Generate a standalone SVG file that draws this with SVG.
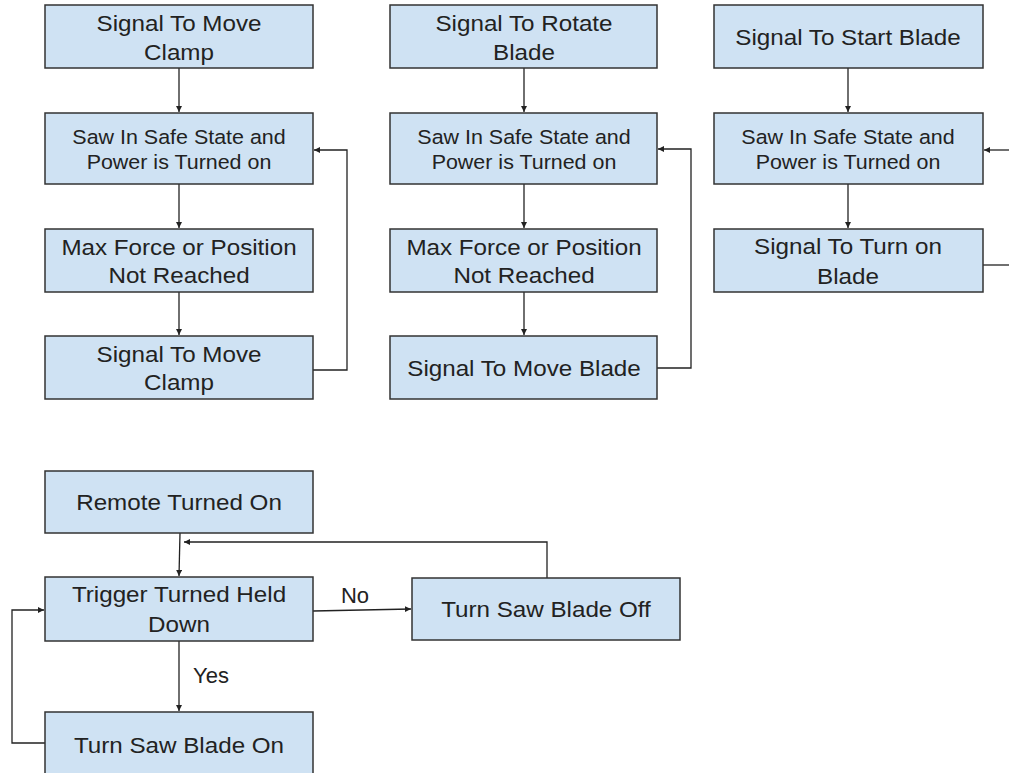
<svg xmlns="http://www.w3.org/2000/svg" width="1009" height="773" viewBox="0 0 1009 773">
<defs>
<marker id="ah" markerWidth="8" markerHeight="8" refX="6" refY="3" orient="auto" markerUnits="userSpaceOnUse">
<path d="M0,0 L6,3 L0,6 Z" fill="#222"/>
</marker>
<style>
.box{fill:#cfe2f3;stroke:#333;stroke-width:1.5}
.t{font-family:"Liberation Sans",Arial,sans-serif;font-size:22px;fill:#222;text-anchor:middle}
.s{font-family:"Liberation Sans",Arial,sans-serif;font-size:19.5px;fill:#222;text-anchor:middle}
.c{fill:none;stroke:#222;stroke-width:1.3}
</style>
</defs>
<rect width="1009" height="773" fill="#fff"/>
<g id="connectors">
<path class="c" d="M179,68 V112" marker-end="url(#ah)"/>
<path class="c" d="M179,184 V228" marker-end="url(#ah)"/>
<path class="c" d="M179,292 V335" marker-end="url(#ah)"/>
<path class="c" d="M313,370 H347 V150 H314" marker-end="url(#ah)"/>
<path class="c" d="M524,68 V112" marker-end="url(#ah)"/>
<path class="c" d="M524,184 V228" marker-end="url(#ah)"/>
<path class="c" d="M524,292 V335" marker-end="url(#ah)"/>
<path class="c" d="M657,368 H691 V149 H658" marker-end="url(#ah)"/>
<path class="c" d="M848,68 V112" marker-end="url(#ah)"/>
<path class="c" d="M848,184 V228" marker-end="url(#ah)"/>
<path class="c" d="M1009,150 H984" marker-end="url(#ah)"/>
<path class="c" d="M983,265 H1009"/>
<path class="c" d="M180,533 L179,576" marker-end="url(#ah)"/>
<path class="c" d="M547,578 V542 H184" marker-end="url(#ah)"/>
<path class="c" d="M313,611 L411,609" marker-end="url(#ah)"/>
<path class="c" d="M179,641 V711" marker-end="url(#ah)"/>
<path class="c" d="M45,743 H12 V610 H44" marker-end="url(#ah)"/>
<text class="t" x="355" y="603">No</text>
<text class="t" x="211" y="683">Yes</text>
</g>
<g id="n1"><rect class="box" x="45" y="5" width="268" height="63"/>
<text class="t" transform="translate(179,31) scale(1.1,1)">Signal To Move</text>
<text class="t" transform="translate(179,60) scale(1.1,1)">Clamp</text></g>
<g id="n2"><rect class="box" x="45" y="113" width="268" height="71"/>
<text class="s" transform="translate(179,144) scale(1.1,1)">Saw In Safe State and</text>
<text class="s" transform="translate(179,169) scale(1.1,1)">Power is Turned on</text></g>
<g id="n3"><rect class="box" x="45" y="229" width="268" height="63"/>
<text class="t" transform="translate(179,255) scale(1.1,1)">Max Force or Position</text>
<text class="t" transform="translate(179,283) scale(1.1,1)">Not Reached</text></g>
<g id="n4"><rect class="box" x="45" y="336" width="268" height="63"/>
<text class="t" transform="translate(179,362) scale(1.1,1)">Signal To Move</text>
<text class="t" transform="translate(179,390) scale(1.1,1)">Clamp</text></g>
<g id="n5"><rect class="box" x="390" y="5" width="267" height="63"/>
<text class="t" transform="translate(524,31) scale(1.1,1)">Signal To Rotate</text>
<text class="t" transform="translate(524,60) scale(1.1,1)">Blade</text></g>
<g id="n6"><rect class="box" x="390" y="113" width="267" height="71"/>
<text class="s" transform="translate(524,144) scale(1.1,1)">Saw In Safe State and</text>
<text class="s" transform="translate(524,169) scale(1.1,1)">Power is Turned on</text></g>
<g id="n7"><rect class="box" x="390" y="229" width="267" height="63"/>
<text class="t" transform="translate(524,255) scale(1.1,1)">Max Force or Position</text>
<text class="t" transform="translate(524,283) scale(1.1,1)">Not Reached</text></g>
<g id="n8"><rect class="box" x="390" y="336" width="267" height="63"/>
<text class="t" transform="translate(524,376) scale(1.1,1)">Signal To Move Blade</text></g>
<g id="n9"><rect class="box" x="714" y="5" width="269" height="63"/>
<text class="t" transform="translate(848,45) scale(1.1,1)">Signal To Start Blade</text></g>
<g id="n10"><rect class="box" x="714" y="113" width="269" height="71"/>
<text class="s" transform="translate(848,144) scale(1.1,1)">Saw In Safe State and</text>
<text class="s" transform="translate(848,169) scale(1.1,1)">Power is Turned on</text></g>
<g id="n11"><rect class="box" x="714" y="229" width="269" height="63"/>
<text class="t" transform="translate(848,254) scale(1.1,1)">Signal To Turn on</text>
<text class="t" transform="translate(848,284) scale(1.1,1)">Blade</text></g>
<g id="n12"><rect class="box" x="45" y="471" width="268" height="62"/>
<text class="t" transform="translate(179,510) scale(1.1,1)">Remote Turned On</text></g>
<g id="n13"><rect class="box" x="45" y="577" width="268" height="64"/>
<text class="t" transform="translate(179,602) scale(1.1,1)">Trigger Turned Held</text>
<text class="t" transform="translate(179,632) scale(1.1,1)">Down</text></g>
<g id="n14"><rect class="box" x="412" y="578" width="268" height="62"/>
<text class="t" transform="translate(546,617) scale(1.1,1)">Turn Saw Blade Off</text></g>
<g id="n15"><rect class="box" x="45" y="712" width="268" height="70"/>
<text class="t" transform="translate(179,753) scale(1.1,1)">Turn Saw Blade On</text></g>
</svg>
